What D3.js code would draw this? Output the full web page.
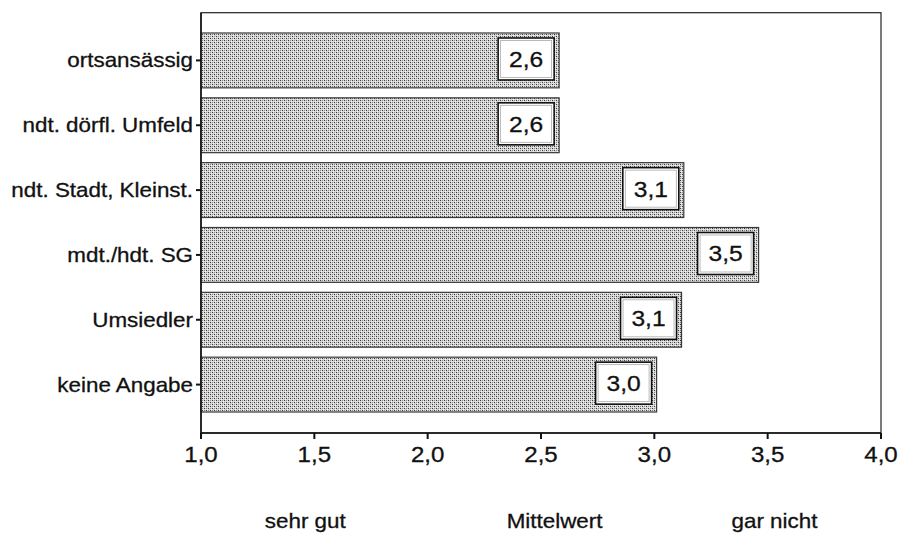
<!DOCTYPE html>
<html>
<head>
<meta charset="utf-8">
<script src="https://cdn.jsdelivr.net/npm/d3@7"></script>
<style>
  html, body { margin: 0; padding: 0; background: #fff; }
  svg { display: block; }
  text { font-family: "Liberation Sans", Arial, Helvetica, sans-serif; fill: #111; stroke: #111; stroke-width: 0.3px; }
</style>
</head>
<body>
<svg id="chart" width="900" height="533"></svg>
<script>
// ---- data ----
const categories = ["ortsansässig", "ndt. dörfl. Umfeld", "ndt. Stadt, Kleinst.", "mdt./hdt. SG", "Umsiedler", "keine Angabe"];
const meanValues = [2.58, 2.58, 3.13, 3.46, 3.12, 3.01];
const xTicks = [1.0, 1.5, 2.0, 2.5, 3.0, 3.5, 4.0];
const scaleLabels = ["sehr gut", "Mittelwert", "gar nicht"];
const scaleLabelPos = [1.46, 2.56, 3.53];

(function () {
// ---- setup ----
const svg = d3.select("#chart");
const pLeft = 201, pRight = 881, pTop = 12.7, pBottom = 433;
const sx = 1.12; // horizontal text stretch

const de = d3.formatLocale({decimal: ",", thousands: ".", grouping: [3], currency: ["", " €"]});
const fmt = de.format(".1f");

const x = d3.scaleLinear().domain([1, 4]).range([pLeft, pRight]);
const y = d3.scaleBand().domain(categories).range([28, 417]).paddingInner(0.154).paddingOuter(0.077);

// stipple pattern
const defs = svg.append("defs");
const pat = defs.append("pattern").attr("id", "stip").attr("patternUnits", "userSpaceOnUse")
  .attr("width", 4).attr("height", 4);
pat.append("rect").attr("width", 4).attr("height", 4).attr("fill", "#d8d8d8");
pat.append("rect").attr("x", 0).attr("y", 0).attr("width", 1).attr("height", 1).attr("fill", "#3a3a3a");
pat.append("rect").attr("x", 2).attr("y", 2).attr("width", 1).attr("height", 1).attr("fill", "#3a3a3a");
pat.append("rect").attr("x", 1).attr("y", 3).attr("width", 1).attr("height", 1).attr("fill", "#f4f4f4");
pat.append("rect").attr("x", 3).attr("y", 1).attr("width", 1).attr("height", 1).attr("fill", "#f4f4f4");
pat.append("rect").attr("x", 2).attr("y", 0).attr("width", 1).attr("height", 1).attr("fill", "#8a8a8a");
pat.append("rect").attr("x", 0).attr("y", 2).attr("width", 1).attr("height", 1).attr("fill", "#8a8a8a");

// frame
svg.append("rect").attr("x", pLeft).attr("y", pTop).attr("width", pRight - pLeft).attr("height", pBottom - pTop)
  .attr("fill", "none").attr("stroke", "#222").attr("stroke-width", 1.2);

// bars
const bars = svg.append("g").selectAll("g").data(categories).join("g");
bars.append("rect")
  .attr("x", x(1))
  .attr("y", d => y(d))
  .attr("width", (d, i) => x(meanValues[i]) - x(1))
  .attr("height", y.bandwidth())
  .attr("fill", "url(#stip)")
  .attr("stroke", "#3a3a3a").attr("stroke-width", 1.2);

// value boxes
const boxW = 56, boxH = 42;
bars.append("rect")
  .attr("x", (d, i) => x(meanValues[i]) - 5 - boxW)
  .attr("y", d => y(d) + 5)
  .attr("width", boxW).attr("height", boxH)
  .attr("fill", "#fff").attr("stroke", "#111").attr("stroke-width", 1.6);
bars.append("rect")
  .attr("x", (d, i) => x(meanValues[i]) - 5 - boxW + 2.5)
  .attr("y", d => y(d) + 7.5)
  .attr("width", boxW - 5).attr("height", boxH - 5)
  .attr("fill", "none").attr("stroke", "#aaa").attr("stroke-width", 0.8);
bars.append("text")
  .attr("transform", (d, i) => `translate(${x(meanValues[i]) - 5 - boxW / 2},${y(d) + 5 + boxH / 2 + 8}) scale(${sx},1)`)
  .attr("text-anchor", "middle")
  .attr("font-size", 22)
  .text((d, i) => fmt(meanValues[i]));

// y axis ticks + labels
const yAx = svg.append("g");
yAx.selectAll("line").data(categories).join("line")
  .attr("x1", pLeft - 5).attr("x2", pLeft)
  .attr("y1", d => y(d) + y.bandwidth() / 2).attr("y2", d => y(d) + y.bandwidth() / 2)
  .attr("stroke", "#111").attr("stroke-width", 2);
yAx.selectAll("text").data(categories).join("text")
  .attr("transform", d => `translate(${pLeft - 8},${y(d) + y.bandwidth() / 2 + 7}) scale(${sx},1)`)
  .attr("text-anchor", "end")
  .attr("font-size", 20)
  .text(d => d);

// x axis ticks + labels
const xAx = svg.append("g");
xAx.append("line").attr("x1", pLeft).attr("x2", pRight).attr("y1", pBottom).attr("y2", pBottom)
  .attr("stroke", "#111").attr("stroke-width", 1.5);
xAx.append("line").attr("x1", pLeft).attr("x2", pLeft).attr("y1", pTop).attr("y2", pBottom)
  .attr("stroke", "#111").attr("stroke-width", 1.5);
xAx.selectAll("line.tk").data(xTicks).join("line").attr("class", "tk")
  .attr("x1", d => x(d)).attr("x2", d => x(d))
  .attr("y1", pBottom).attr("y2", pBottom + 6)
  .attr("stroke", "#111").attr("stroke-width", 2);
xAx.selectAll("text").data(xTicks).join("text")
  .attr("transform", d => `translate(${x(d)},462) scale(${sx},1)`)
  .attr("text-anchor", "middle")
  .attr("font-size", 21.5)
  .text(d => fmt(d));

// scale annotations
svg.append("g").selectAll("text").data(scaleLabels).join("text")
  .attr("transform", (d, i) => `translate(${x(scaleLabelPos[i])},528) scale(${sx},1)`)
  .attr("text-anchor", "middle")
  .attr("font-size", 20)
  .text(d => d);
})();
</script>
</body>
</html>
